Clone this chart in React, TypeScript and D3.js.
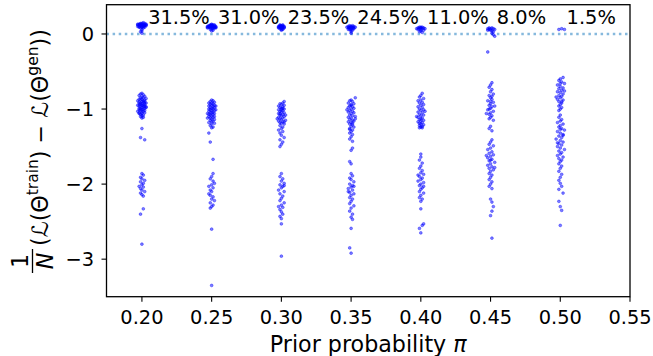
import React from "react";
import * as d3 from "d3";

// ---- data (dx in thousandths of π, y value) ----
const priors = [0.2, 0.25, 0.3, 0.35, 0.4, 0.45, 0.5];
const percents = ["31.5%", "31.0%", "23.5%", "24.5%", "11.0%", "8.0%", "1.5%"];
const xTicks = [0.2, 0.25, 0.3, 0.35, 0.4, 0.45, 0.5, 0.55];
const yTicks = [0, -1, -2, -3];

const pts20: [number, number][] = [
  [-3,0.12],[-2,0.13],[-1,0.14],[0,0.12],[1,0.13],[2,0.12],[3,0.11],[-2,0.10],[-1,0.11],[0,0.10],[1,0.11],[2,0.09],[-3,0.10],[0,0.14],[1,0.08],[-1,0.08],[0,0.06],[0,0.04],[-1,0.03],[0,0.01],[2,0.14],[-2,0.12],[1,0.10],[3,0.13],[-1,0.12],[0,0.09],[2,0.11],[-3,0.13],[1,0.15],[-2,0.09],[3,0.12],[-1,0.13],
  [0,-0.79],[-1,-0.80],[1,-0.81],[-2,-0.82],[2,-0.83],[0,-0.84],[-1,-0.85],[1,-0.85],[3,-0.86],[-2,-0.87],[0,-0.87],[2,-0.88],[-1,-0.88],[1,-0.89],[-3,-0.89],[0,-0.90],[2,-0.90],[-2,-0.91],[1,-0.91],[-1,-0.92],[3,-0.92],[0,-0.93],[-2,-0.93],[2,-0.94],[-1,-0.94],[1,-0.95],[-3,-0.95],[0,-0.95],[2,-0.96],[-2,-0.96],[1,-0.97],[-1,-0.97],[3,-0.98],[0,-0.98],[-2,-0.99],[2,-0.99],[-1,-1.00],[1,-1.00],[0,-1.01],[-2,-1.01],[2,-1.02],[-1,-1.02],[1,-1.03],[0,-1.04],[-2,-1.05],[2,-1.05],[0,-1.06],[-1,-1.07],[1,-1.08],[0,-1.09],[-1,-1.10],[1,-1.11],[0,-1.12],[3,-0.97],[-3,-1.03],[2,-0.92],[-2,-1.06],
  [0,-1.26],[-1,-1.38],[2,-1.41],
  [0,-1.86],[1,-1.88],[-1,-1.91],[0,-1.93],[2,-1.95],[-1,-1.97],[1,-1.99],[0,-2.01],[-2,-2.03],[1,-2.04],[-1,-2.06],[0,-2.08],[2,-2.10],[-1,-2.12],[0,-2.14],[1,-2.16],
  [1,-2.33],[-1,-2.40],[0,-2.80],
];

const pts25: [number, number][] = [
  [-3,0.10],[-2,0.11],[-1,0.12],[0,0.11],[1,0.12],[2,0.11],[3,0.10],[-2,0.09],[-1,0.08],[0,0.09],[1,0.10],[2,0.08],[3,0.08],[-3,0.08],[0,0.13],[-1,0.10],[1,0.07],[2,0.09],[0,0.07],[-1,0.06],[1,0.05],[0,0.12],[-2,0.10],[2,0.12],[3,0.09],[-1,0.11],[1,0.09],[0,0.10],[-3,0.09],[0,0.04],
  [0,-0.88],[1,-0.89],[-1,-0.90],[2,-0.91],[0,-0.92],[-2,-0.92],[1,-0.93],[-1,-0.94],[2,-0.95],[0,-0.95],[-2,-0.96],[1,-0.97],[-1,-0.98],[2,-0.98],[0,-0.99],[-2,-1.00],[1,-1.00],[-1,-1.01],[0,-1.02],[2,-1.02],[-2,-1.03],[1,-1.04],[-1,-1.05],[0,-1.05],[2,-1.06],[-2,-1.07],[1,-1.07],[-1,-1.08],[0,-1.09],[2,-1.10],[-2,-1.10],[1,-1.11],[-1,-1.12],[0,-1.13],[2,-1.14],[-1,-1.15],[1,-1.16],[0,-1.17],[-2,-1.18],[2,-1.19],[0,-1.20],[-1,-1.22],[1,-1.24],[0,-1.25],[3,-1.01],[-3,-1.06],[3,-0.96],[-3,-1.12],
  [-2,-1.32],[-1,-1.44],[1,-1.67],
  [1,-1.86],[0,-1.90],[-1,-1.93],[1,-1.96],[2,-1.99],[0,-2.01],[-2,-2.03],[1,-2.05],[-1,-2.08],[0,-2.10],[-2,-2.13],[-1,-2.15],[1,-2.17],[0,-2.20],[2,-2.22],[-1,-2.25],[1,-2.28],[0,-2.30],[-1,-2.32],
  [0,-2.60],[0,-3.35],
];

const pts30: [number, number][] = [
  [-2,0.10],[-1,0.11],[0,0.10],[1,0.11],[2,0.10],[-2,0.08],[-1,0.09],[0,0.08],[1,0.09],[2,0.08],[-1,0.07],[0,0.06],[1,0.07],[0,0.05],[-1,0.12],[1,0.12],[0,0.11],[2,0.09],[-2,0.09],[0,0.09],[1,0.06],[-1,0.10],
  [2,-0.90],[1,-0.92],[-1,-0.93],[0,-0.94],[2,-0.95],[-2,-0.96],[1,-0.97],[-1,-0.98],[0,-0.99],[2,-1.00],[-2,-1.01],[1,-1.02],[-1,-1.03],[0,-1.04],[2,-1.05],[-2,-1.06],[1,-1.07],[-1,-1.08],[0,-1.09],[2,-1.10],[-2,-1.11],[1,-1.12],[-1,-1.13],[0,-1.14],[3,-1.15],[-2,-1.16],[1,-1.17],[-1,-1.18],[0,-1.19],[2,-1.20],[-1,-1.22],[1,-1.24],[0,-1.26],[-2,-1.28],[1,-1.30],[-1,-1.32],[0,-1.35],[2,-1.38],[-1,-1.41],[1,-1.44],[0,-1.47],[-1,-1.50],[0,-1.01],[3,-1.08],[-3,-1.13],[1,-0.99],[-1,-1.06],[2,-1.17],
  [0,-1.86],[-1,-1.90],[1,-1.93],[0,-1.96],[2,-1.99],[-1,-2.01],[1,-2.03],[0,-2.05],[-2,-2.08],[2,-2.10],[-1,-2.13],[1,-2.16],[0,-2.19],[-1,-2.22],[2,-2.25],[0,-2.28],[1,-2.31],[-1,-2.34],[0,-2.37],[1,-2.40],[-1,-2.43],[0,-2.46],[0,-2.53],[2,-2.02],[-2,-2.30],
  [0,-2.96],
];

const pts35: [number, number][] = [
  [-2,0.10],[-1,0.11],[0,0.10],[1,0.11],[2,0.10],[3,0.09],[-3,0.09],[-2,0.08],[-1,0.08],[0,0.07],[1,0.08],[2,0.07],[0,0.05],[-1,0.06],[1,0.05],[0,0.03],[0,0.01],[-1,0.09],[1,0.09],[2,0.08],[0,0.09],[-2,0.06],
  [3,-0.85],[0,-0.88],[-1,-0.89],[1,-0.90],[-2,-0.92],[2,-0.93],[0,-0.94],[-1,-0.96],[1,-0.97],[-2,-0.98],[2,-0.99],[0,-1.00],[-1,-1.02],[1,-1.03],[-2,-1.04],[2,-1.05],[0,-1.06],[-1,-1.08],[1,-1.09],[3,-1.10],[-2,-1.11],[0,-1.12],[-1,-1.14],[1,-1.15],[2,-1.16],[-2,-1.17],[0,-1.18],[-1,-1.20],[1,-1.21],[0,-1.23],[2,-1.24],[-1,-1.26],[1,-1.28],[0,-1.30],[-1,-1.32],[1,-1.34],[0,-1.37],[-1,-1.40],[1,-1.43],[0,-0.95],[-3,-1.01],[3,-1.13],[1,-1.19],[-1,-1.27],
  [1,-1.52],[0,-1.55],[-1,-1.70],[0,-1.73],
  [0,-1.86],[1,-1.89],[-1,-1.92],[0,-1.94],[2,-1.97],[-1,-2.00],[1,-2.02],[0,-2.04],[-2,-2.06],[1,-2.08],[-1,-2.11],[2,-2.13],[0,-2.15],[-1,-2.18],[1,-2.20],[0,-2.23],[-1,-2.26],[2,-2.29],[0,-2.32],[-1,-2.36],[1,-2.40],[0,-2.44],[1,-2.47],[-2,-2.10],[2,-2.03],
  [0,-2.59],[-1,-2.85],[0,-2.92],
];

const pts40: [number, number][] = [
  [-2,0.08],[-1,0.09],[0,0.08],[1,0.09],[2,0.08],[3,0.07],[-2,0.06],[-1,0.07],[0,0.06],[1,0.07],[2,0.05],[0,0.04],[-1,0.03],[1,0.02],[-3,0.07],[0,0.09],
  [1,-0.79],[0,-0.82],[-1,-0.84],[2,-0.86],[0,-0.88],[-2,-0.89],[1,-0.91],[-1,-0.92],[2,-0.94],[0,-0.95],[-2,-0.97],[1,-0.98],[-1,-1.00],[2,-1.01],[0,-1.02],[-2,-1.04],[1,-1.05],[-1,-1.07],[2,-1.08],[0,-1.09],[-2,-1.11],[1,-1.12],[-1,-1.14],[2,-1.15],[0,-1.16],[-2,-1.17],[1,-1.18],[-1,-1.19],[0,-1.20],[2,-1.21],[-1,-1.22],[1,-1.23],[0,-1.24],[-1,-1.25],[1,-1.25],[3,-1.03],[-3,-1.10],[0,-1.13],
  [0,-1.60],[0,-1.64],[-1,-1.68],[1,-1.72],[0,-1.76],[-1,-1.79],[1,-1.82],[0,-1.85],[2,-1.87],[-1,-1.90],[1,-1.92],[0,-1.94],[-2,-1.96],[2,-1.98],[0,-2.00],[-1,-2.02],[1,-2.05],[0,-2.07],[-1,-2.10],[2,-2.12],[0,-2.15],[-1,-2.18],[1,-2.20],[0,-2.23],[-2,-1.88],[2,-2.03],
  [0,-2.33],[2,-2.53],[1,-2.55],[-1,-2.59],[0,-2.65],
];

const pts45: [number, number][] = [
  [-2,0.07],[-1,0.08],[0,0.07],[1,0.08],[2,0.07],[3,0.06],[-2,0.05],[0,0.05],[1,0.04],[2,0.03],[1,0.01],[2,-0.01],[3,-0.03],[-1,0.06],
  [-2,-0.24],
  [1,-0.65],[0,-0.68],[-1,-0.71],[1,-0.74],[0,-0.77],[2,-0.80],[-1,-0.82],[0,-0.85],[1,-0.87],[-2,-0.89],[2,-0.91],[0,-0.93],[-1,-0.95],[1,-0.97],[0,-0.99],[-2,-1.01],[2,-1.03],[0,-1.05],[-1,-1.07],[1,-1.09],[0,-1.11],[-1,-1.13],[2,-1.15],[0,-0.90],[-1,-1.00],[1,-0.83],[3,-0.96],[-3,-1.06],
  [0,-1.23],[-1,-1.26],[1,-1.29],
  [1,-1.41],[0,-1.44],[-1,-1.47],[2,-1.49],[0,-1.52],[-2,-1.54],[1,-1.57],[-1,-1.59],[2,-1.61],[0,-1.63],[-2,-1.65],[1,-1.67],[-1,-1.69],[3,-1.71],[0,-1.73],[-2,-1.75],[1,-1.77],[-1,-1.79],[2,-1.81],[0,-1.83],[-1,-1.86],[1,-1.88],[0,-1.91],[-1,-1.94],[1,-1.97],[0,-2.00],[-1,-2.03],[1,-2.06],[-3,-1.62],[3,-1.78],[0,-1.68],
  [0,-2.20],[1,-2.24],[2,-2.30],[1,-2.36],[0,-2.42],[1,-2.72],
];

const pts50: [number, number][] = [
  [-1,0.06],[1,0.07],[3,0.06],
  [2,-0.58],[0,-0.60],[-1,-0.62],[1,-0.64],[3,-0.66],[-2,-0.68],[0,-0.70],[2,-0.72],[-1,-0.73],[1,-0.75],[-2,-0.77],[0,-0.78],[2,-0.80],[-1,-0.82],[1,-0.83],[0,-0.85],[-2,-0.87],[2,-0.88],[-1,-0.90],[1,-0.92],[0,-0.94],[-1,-0.96],[1,-0.98],[0,-1.00],[-1,-1.02],[3,-0.76],[-3,-0.84],[0,-0.66],[1,-0.90],
  [0,-1.08],[-1,-1.11],[1,-1.14],[0,-1.16],[-2,-1.18],[2,-1.20],[0,-1.22],[-1,-1.24],[1,-1.26],[3,-1.28],[-2,-1.30],[0,-1.32],[2,-1.34],[-1,-1.36],[1,-1.38],[-3,-1.40],[0,-1.42],[2,-1.44],[-1,-1.46],[1,-1.48],[-2,-1.50],[0,-1.52],[3,-1.54],[-1,-1.56],[1,-1.58],[0,-1.60],[-2,-1.62],[2,-1.64],[-1,-1.66],[1,-1.68],[0,-1.70],[-1,-1.73],[1,-1.76],[0,-1.79],[-1,-1.83],[1,-1.87],[0,-1.91],[-1,-1.95],[2,-1.35],[-2,-1.45],[0,-1.27],
  [0,-1.99],[1,-2.03],[-1,-2.07],[2,-2.12],[-1,-2.23],[0,-2.30],[1,-2.35],[0,-2.55],
];

const columnPoints = [pts20, pts25, pts30, pts35, pts40, pts45, pts50];

const W = 653;
const H = 356;
const LEFT = 106.5;
const RIGHT = 630;
const TOP = 4.7;
const BOTTOM = 296.7;

export default function App() {
  const x = d3.scaleLinear().domain([0.1746, 0.55]).range([LEFT, RIGHT]);
  const y = d3.scaleLinear().domain([0.39, -3.5]).range([TOP, BOTTOM]);
  const font = "'DejaVu Sans', sans-serif";
  const tickFs = 19.4;
  const fmtX = d3.format(".2f");
  const fmtY = (v: number) => (v < 0 ? "\u2212" + Math.abs(v) : String(v));

  const yl0x = 48; // baseline (screen x) of y label
  const yl0y = 274; // start (screen y) of y label
  const mainFs = 22.2;
  const supFs = 15.5;

  return (
    <svg
      width={W}
      height={H}
      style={{ position: "absolute", left: 0, top: 0, background: "#fff" }}
      fontFamily={font}
    >
      <rect x={0} y={0} width={W} height={H} fill="#fff" />
      {/* zero line */}
      <line
        x1={LEFT}
        x2={RIGHT}
        y1={y(0)}
        y2={y(0)}
        stroke="#86b9dd"
        strokeWidth={2.5}
        strokeDasharray="2.5 3.6"
      />
      {/* points */}
      <g>
        {columnPoints.map((pts, ci) =>
          pts.map(([dx, v], i) => (
            <circle
              key={ci + "-" + i}
              cx={x(priors[ci] + dx * 0.001)}
              cy={y(v)}
              r={1.4}
              fill="#0000ff"
              fillOpacity={0.5}
              stroke="#0000ff"
              strokeOpacity={0.65}
              strokeWidth={0.6}
            />
          ))
        )}
      </g>
      {/* percent labels */}
      {priors.map((p, i) => (
        <text
          key={"pct" + i}
          x={x(p + 0.0045)}
          y={y(0.13)}
          fontSize={tickFs}
          fill="#000"
        >
          {percents[i]}
        </text>
      ))}
      {/* frame */}
      <rect
        x={LEFT}
        y={TOP}
        width={RIGHT - LEFT}
        height={BOTTOM - TOP}
        fill="none"
        stroke="#000"
        strokeWidth={1.3}
      />
      {/* x ticks */}
      {xTicks.map((t) => (
        <g key={"xt" + t}>
          <line x1={x(t)} x2={x(t)} y1={BOTTOM} y2={BOTTOM + 5} stroke="#000" strokeWidth={1.1} />
          <text x={x(t)} y={324} textAnchor="middle" fontSize={tickFs} fill="#000">
            {fmtX(t)}
          </text>
        </g>
      ))}
      {/* y ticks */}
      {yTicks.map((t) => (
        <g key={"yt" + t}>
          <line x1={LEFT - 5} x2={LEFT} y1={y(t)} y2={y(t)} stroke="#000" strokeWidth={1.1} />
          <text x={94} y={y(t) + 7} textAnchor="end" fontSize={tickFs} fill="#000">
            {fmtY(t)}
          </text>
        </g>
      ))}
      {/* x label */}
      <text x={(LEFT + RIGHT) / 2} y={352} textAnchor="middle" fontSize={22.2} fill="#000">
        Prior probability <tspan fontStyle="italic">π</tspan>
      </text>
      {/* y label */}
      <g transform={`translate(${yl0x},${yl0y}) rotate(-90)`}>
        <text x={13} y={-20} textAnchor="middle" fontSize={mainFs} fill="#000">1</text>
        <line x1={1} x2={25} y1={-15.5} y2={-15.5} stroke="#000" strokeWidth={1.3} />
        <text x={13} y={5} textAnchor="middle" fontSize={mainFs} fontStyle="italic" fill="#000">N</text>
        <text x={28} y={0} fontSize={mainFs} fill="#000">
          (<tspan fontStyle="italic">ℒ</tspan>(Θ
          <tspan fontSize={supFs} dy={-10}>train</tspan>
          <tspan dy={10}>) − </tspan>
          <tspan fontStyle="italic">ℒ</tspan>(Θ
          <tspan fontSize={supFs} dy={-10}>gen</tspan>
          <tspan dy={10}>))</tspan>
        </text>
      </g>
    </svg>
  );
}
